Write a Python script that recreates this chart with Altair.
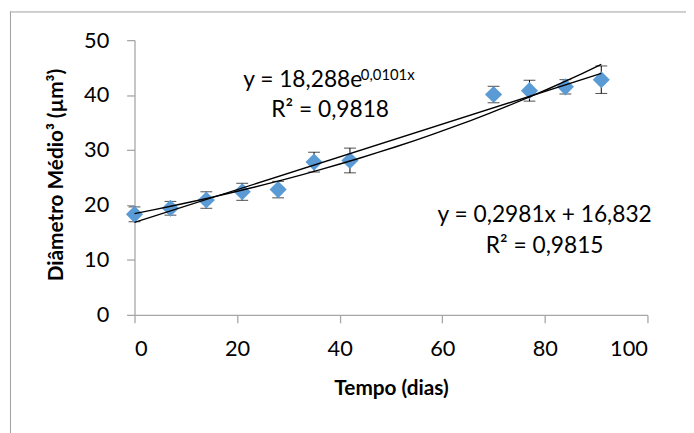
import altair as alt
import pandas as pd

# Data
dias = [0, 7, 14, 21, 28, 35, 42, 70, 77, 84, 91]
diametro = [18.3, 19.4, 20.9, 22.4, 22.8, 27.8, 28.1, 40.1, 40.8, 41.5, 42.8]
erro = [1.35, 1.25, 1.5, 1.55, 1.5, 1.8, 2.25, 1.5, 1.9, 1.3, 2.5]

x_ticks = [0, 20, 40, 60, 80, 100]
y_ticks = [0, 10, 20, 30, 40, 50]

exp_eq = "y = 18,288e"
exp_sup = "0,0101x"
exp_r2 = "R² = 0,9818"
lin_eq = "y = 0,2981x + 16,832"
lin_r2 = "R² = 0,9815"

df = pd.DataFrame({"dias": dias, "diam": diametro, "erro": erro})

FONT = "Lato"
BLUE = "#5B9BD5"
AXIS_GRAY = "#a6a6a6"

x_enc = alt.X(
    "dias:Q",
    scale=alt.Scale(domain=[0, 100], nice=False, zero=False),
    axis=alt.Axis(
        values=x_ticks, title="Tempo (dias)", grid=False, tickSize=8,
        labelPadding=16, titleY=81, titleBaseline="alphabetic",
        titleAlign="center",
    ),
)
y_enc_axis = alt.Axis(
    values=y_ticks, title="Diâmetro Médio³ (µm³)", grid=False, tickSize=8,
    labelPadding=18, titleX=-73, titleY=136, titleAngle=270,
    titleBaseline="alphabetic", titleAlign="center",
)
y_scale = alt.Scale(domain=[0, 50], nice=False)

base = alt.Chart(df)

errbars = base.transform_calculate(
    lo="datum.diam - datum.erro", hi="datum.diam + datum.erro"
).mark_errorbar(
    ticks=alt.MarkConfig(size=12, color="black", strokeWidth=1),
    rule=alt.MarkConfig(color="black", strokeWidth=1),
    color="black",
).encode(
    x=x_enc,
    y=alt.Y("lo:Q", scale=y_scale, axis=y_enc_axis),
    y2="hi:Q",
)

points = base.mark_point(
    shape="diamond", filled=True, size=300, color=BLUE, opacity=1
).encode(
    x=x_enc,
    y=alt.Y("diam:Q", scale=y_scale, axis=y_enc_axis),
)

lin = base.transform_regression(
    "dias", "diam", method="linear", extent=[0, 91]
).mark_line(color="black", strokeWidth=1.4).encode(
    x=x_enc, y=alt.Y("diam:Q", scale=y_scale, axis=y_enc_axis)
)

expo = base.transform_regression(
    "dias", "diam", method="exp", extent=[0, 91]
).mark_line(color="black", strokeWidth=1.4).encode(
    x=x_enc, y=alt.Y("diam:Q", scale=y_scale, axis=y_enc_axis)
)


def label(text, px, py, size=23, align="left"):
    return alt.Chart(alt.Data(values=[{}])).mark_text(
        font=FONT, fontSize=size, align=align, baseline="alphabetic", color="black"
    ).encode(x=alt.value(px), y=alt.value(py), text=alt.value(text))


annotations = [
    label(exp_eq, 110, 47),
    label(exp_sup, 229, 40, size=15),
    label(exp_r2, 198, 78, align="center"),
    label(lin_eq, 415, 184, align="center"),
    label(lin_r2, 415, 215, align="center"),
]

frame_top = alt.Chart(alt.Data(values=[{}])).mark_rule(
    color="#a0a0a0", strokeWidth=1
).encode(x=alt.value(-126), x2=alt.value(560), y=alt.value(-28.5))
frame_left = alt.Chart(alt.Data(values=[{}])).mark_rule(
    color="#a0a0a0", strokeWidth=1
).encode(x=alt.value(-125.5), y=alt.value(-29), y2=alt.value(420))

chart = alt.layer(
    frame_top, frame_left, errbars, points, lin, expo, *annotations
).properties(
    width=519,
    height=278,
    background="white",
    autosize=alt.AutoSizeParams(type="none"),
    padding={"left": 128, "top": 30, "right": 39, "bottom": 117},
).configure_view(
    stroke=None
).configure_axis(
    domainColor=AXIS_GRAY, tickColor=AXIS_GRAY, domainWidth=1.3, tickWidth=1.3,
    labelFont=FONT, labelFontSize=22, labelColor="black",
    titleFont=FONT, titleFontSize=21, titleFontWeight="bold", titleColor="black",
)

chart.save("out.html", embed_options={"renderer": "svg", "actions": False})
